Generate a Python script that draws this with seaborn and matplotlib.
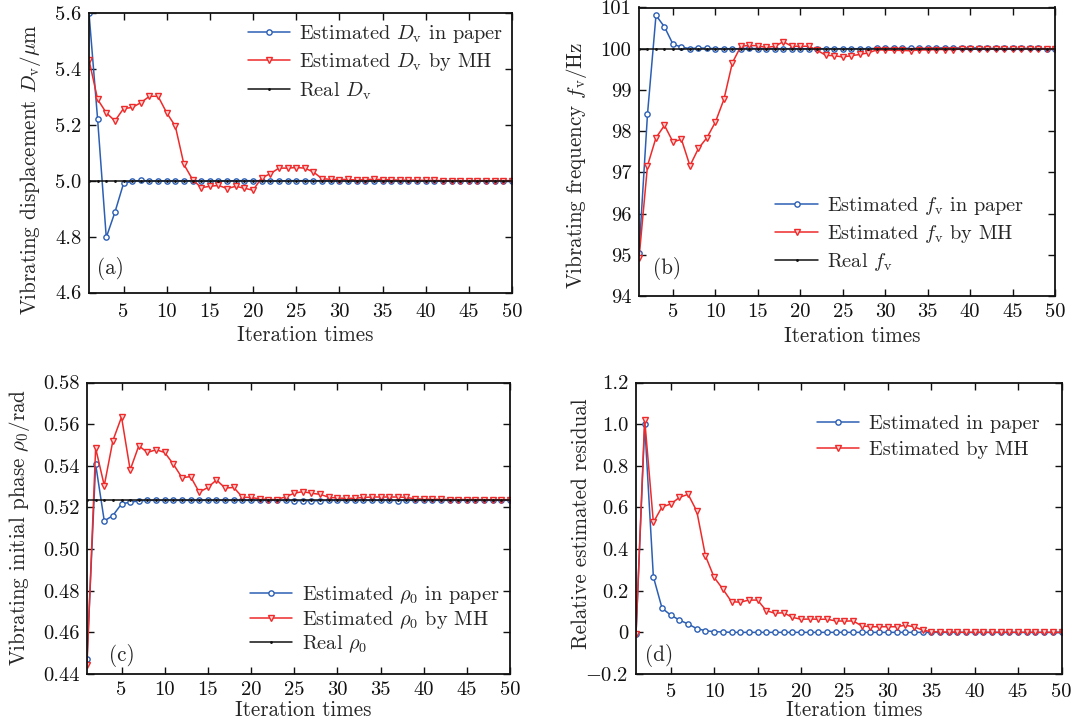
import numpy as np
import pandas as pd
import matplotlib
matplotlib.use("Agg")
import matplotlib.pyplot as plt
import seaborn as sns

# ---------------- data ----------------
iterations = list(range(1, 51))

a_paper = [5.600, 5.219, 4.797, 4.887, 4.990, 4.998, 5.001, 4.999, 4.999, 4.999,
           4.999, 4.999, 5.000, 4.998, 4.999, 4.999, 4.999, 5.000, 5.000, 5.000,
           5.000, 4.999, 4.999, 5.000, 5.000, 5.000, 5.000, 5.000, 4.999, 4.999,
           4.999, 4.999, 4.999, 4.999, 4.999, 4.999, 4.999, 4.999, 4.999, 4.999,
           4.999, 4.999, 4.999, 4.999, 4.999, 4.999, 4.999, 4.999, 5.000, 5.000]
a_mh = [5.432, 5.291, 5.243, 5.214, 5.258, 5.262, 5.279, 5.302, 5.302, 5.243,
        5.195, 5.058, 5.004, 4.975, 4.980, 4.983, 4.972, 4.980, 4.973, 4.966,
        5.010, 5.025, 5.045, 5.045, 5.047, 5.045, 5.031, 5.007, 5.005, 5.004,
        5.005, 5.002, 5.004, 5.005, 5.004, 5.003, 5.002, 5.002, 5.002, 5.001,
        5.001, 5.000, 5.000, 5.000, 5.000, 5.000, 5.000, 5.000, 5.000, 5.000]
a_real = 5.0

b_paper = [95.04, 98.41, 100.81, 100.53, 100.11, 100.04, 100.00, 100.02, 100.01, 100.00,
           100.00, 100.00, 100.00, 100.01, 100.00, 100.00, 100.00, 100.00, 100.00, 100.00,
           100.00, 100.00, 100.00, 100.00, 100.00, 100.00, 100.00, 100.00, 100.01, 100.01,
           100.01, 100.01, 100.01, 100.01, 100.01, 100.02, 100.02, 100.02, 100.02, 100.02,
           100.02, 100.01, 100.01, 100.01, 100.01, 100.01, 100.01, 100.01, 100.00, 100.00]
b_mh = [94.91, 97.16, 97.84, 98.14, 97.74, 97.80, 97.16, 97.58, 97.84, 98.22,
        98.77, 99.66, 100.06, 100.08, 100.07, 100.03, 100.06, 100.17, 100.06, 100.06,
        100.06, 99.96, 99.84, 99.83, 99.80, 99.83, 99.86, 99.90, 99.97, 99.97,
        99.96, 99.96, 99.95, 99.97, 99.97, 99.98, 99.98, 99.98, 99.99, 99.99,
        99.99, 99.99, 99.99, 99.99, 99.99, 100.00, 100.00, 100.00, 100.00, 100.00]
b_real = 100.0

c_paper = [0.4471, 0.5408, 0.5135, 0.5161, 0.5217, 0.5225, 0.5231, 0.5234, 0.5234, 0.5234,
           0.5234, 0.5234, 0.5234, 0.5234, 0.5234, 0.5234, 0.5234, 0.5234, 0.5234, 0.5234,
           0.5234, 0.5234, 0.5234, 0.5234, 0.5232, 0.5232, 0.5231, 0.5232, 0.5234, 0.5234,
           0.5234, 0.5234, 0.5234, 0.5234, 0.5234, 0.5234, 0.5233, 0.5234, 0.5234, 0.5234,
           0.5234, 0.5234, 0.5234, 0.5234, 0.5234, 0.5234, 0.5234, 0.5234, 0.5234, 0.5234]
c_mh = [0.4443, 0.5485, 0.5305, 0.5521, 0.5634, 0.5380, 0.5496, 0.5464, 0.5477, 0.5464,
        0.5408, 0.5343, 0.5348, 0.5273, 0.5296, 0.5332, 0.5293, 0.5296, 0.5249, 0.5248,
        0.5241, 0.5238, 0.5238, 0.5251, 0.5268, 0.5276, 0.5268, 0.5263, 0.5249, 0.5245,
        0.5244, 0.5244, 0.5248, 0.5250, 0.5250, 0.5250, 0.5250, 0.5248, 0.5241, 0.5240,
        0.5239, 0.5239, 0.5238, 0.5238, 0.5238, 0.5238, 0.5237, 0.5237, 0.5237, 0.5237]
c_real = 0.5236

d_paper = [-0.010, 1.000, 0.267, 0.116, 0.083, 0.059, 0.040, 0.018, 0.008, 0.003,
           0.002, 0.000, 0.000, 0.000, 0.000, 0.000, 0.000, 0.000, 0.000, 0.000,
           0.000, 0.000, 0.000, 0.000, 0.000, 0.000, 0.000, 0.000, 0.000, 0.000,
           0.000, 0.000, 0.000, 0.000, 0.000, 0.000, 0.000, 0.000, 0.000, 0.000,
           0.000, 0.000, 0.000, 0.000, 0.000, 0.000, 0.000, 0.000, 0.000, 0.000]
d_mh = [-0.010, 1.022, 0.528, 0.603, 0.616, 0.648, 0.663, 0.582, 0.367, 0.264,
        0.208, 0.147, 0.145, 0.155, 0.155, 0.104, 0.092, 0.094, 0.072, 0.063,
        0.064, 0.063, 0.063, 0.055, 0.054, 0.055, 0.031, 0.027, 0.027, 0.027,
        0.027, 0.034, 0.027, 0.011, 0.003, 0.002, 0.001, 0.001, 0.000, 0.000,
        0.000, 0.000, 0.000, 0.000, 0.000, 0.000, 0.000, 0.000, 0.000, 0.000]

x_ticks = [5, 10, 15, 20, 25, 30, 35, 40, 45, 50]
a_yticks = [4.6, 4.8, 5.0, 5.2, 5.4, 5.6]
a_ylabels = ["4.6", "4.8", "5.0", "5.2", "5.4", "5.6"]
b_yticks = [94, 95, 96, 97, 98, 99, 100, 101]
b_ylabels = ["94", "95", "96", "97", "98", "99", "100", "101"]
c_yticks = [0.44, 0.46, 0.48, 0.50, 0.52, 0.54, 0.56, 0.58]
c_ylabels = ["0.44", "0.46", "0.48", "0.50", "0.52", "0.54", "0.56", "0.58"]
d_yticks = [-0.2, 0.0, 0.2, 0.4, 0.6, 0.8, 1.0, 1.2]
d_ylabels = [r"$-$0.2", "0", "0.2", "0.4", "0.6", "0.8", "1.0", "1.2"]

# ---------------- style ----------------
sns.set_style("ticks")
plt.rcParams["font.family"] = ["cmr10", "DejaVu Serif"]
plt.rcParams["mathtext.fontset"] = "cm"
plt.rcParams["axes.formatter.use_mathtext"] = True

BLUE = "#2c5fb3"
RED = "#ee2a2a"
BLACK = "#111111"
FS_TICK = 14.8
FS_LAB = 15.2
FS_LEG = 14.6

fig = plt.figure(figsize=(10.75, 7.24), dpi=100)
W, H = 1075.0, 724.0


def axes_px(l, t, r, b):
    return fig.add_axes([l / W, 1 - b / H, (r - l) / W, (b - t) / H])


ax_a = axes_px(89, 13, 512, 292.5)
ax_b = axes_px(639, 7.5, 1055, 296)
ax_c = axes_px(87, 382.5, 510, 674)
ax_d = axes_px(636, 382.5, 1061.5, 674)


def draw(ax, paper, mh, real, lab_paper, lab_mh, lab_real):
    df = pd.DataFrame({"it": iterations, "paper": paper, "mh": mh})
    sns.lineplot(data=df, x="it", y="paper", ax=ax, color=BLUE, lw=1.1,
                 marker="o", markersize=3.8, markerfacecolor="white",
                 markeredgecolor=BLUE, markeredgewidth=1.0, label=lab_paper)
    sns.lineplot(data=df, x="it", y="mh", ax=ax, color=RED, lw=1.1,
                 marker="v", markersize=4.8, markerfacecolor="#ffd6d6",
                 markeredgecolor=RED, markeredgewidth=1.0, label=lab_mh)
    if real is not None:
        dr = pd.DataFrame({"it": iterations, "real": [real] * len(iterations)})
        sns.lineplot(data=dr, x="it", y="real", ax=ax, color=BLACK, lw=1.1,
                     marker=".", markersize=2.5, markerfacecolor=BLACK,
                     markeredgecolor=BLACK, label=lab_real)


def style(ax, yticks, ylabels, ylim, ylabel, ylab_xy, xpad, xlab_y, tag, tagpos,
          legpos, legspacing):
    ax.set_xlim(1, 50)
    ax.set_ylim(*ylim)
    ax.set_xticks(x_ticks)
    ax.set_xticklabels([str(v) for v in x_ticks])
    ax.set_yticks(yticks)
    ax.set_yticklabels(ylabels)
    ax.tick_params(direction="in", top=True, right=True, length=5, width=1.0,
                   labelsize=FS_TICK, pad=5.5, colors="#111111")
    ax.tick_params(axis="x", pad=xpad)
    for s in ax.spines.values():
        s.set_linewidth(1.3)
        s.set_color("#111111")
    ax.set_xlabel("Iteration times", fontsize=FS_LAB)
    ax.xaxis.set_label_coords(0.512, xlab_y)
    ax.set_ylabel(ylabel, fontsize=FS_LAB)
    ax.yaxis.set_label_coords(ylab_xy[0], ylab_xy[1])
    ax.text(tagpos[0], tagpos[1], tag, transform=ax.transAxes, fontsize=FS_LAB,
            ha="left", va="center")
    ax.legend(loc="upper left", bbox_to_anchor=legpos, frameon=False,
              fontsize=FS_LEG, handlelength=2.1, handletextpad=0.45,
              borderpad=0, borderaxespad=0, labelspacing=legspacing)


draw(ax_a, a_paper, a_mh, a_real,
     r"Estimated $D_{\mathrm{v}}$ in paper", r"Estimated $D_{\mathrm{v}}$ by MH",
     r"Real $D_{\mathrm{v}}$")
style(ax_a, a_yticks, a_ylabels, (4.6, 5.6),
      r"Vibrating displacement $D_{\mathrm{v}}/\mu\mathrm{m}$", (-0.109, 0.44),
      7.3, -0.119, "(a)", (0.018, 0.085), (0.375, 0.965), 0.33)

draw(ax_b, b_paper, b_mh, b_real,
     r"Estimated $f_{\mathrm{v}}$ in paper", r"Estimated $f_{\mathrm{v}}$ by MH",
     r"Real $f_{\mathrm{v}}$")
style(ax_b, b_yticks, b_ylabels, (94, 101),
      r"Vibrating frequency $f_{\mathrm{v}}/\mathrm{Hz}$", (-0.121, 0.454),
      4.8, -0.107, "(b)", (0.034, 0.096), (0.328, 0.35), 0.3)

draw(ax_c, c_paper, c_mh, c_real,
     r"Estimated $\rho_0$ in paper", r"Estimated $\rho_0$ by MH",
     r"Real $\rho_0$")
style(ax_c, c_yticks, c_ylabels, (0.44, 0.58),
      r"Vibrating initial phase $\rho_0/\mathrm{rad}$", (-0.130, 0.503),
      5.2, -0.0916, "(c)", (0.052, 0.065), (0.385, 0.31), 0.15)

draw(ax_d, d_paper, d_mh, None, "Estimated in paper", "Estimated by MH", None)
style(ax_d, d_yticks, d_ylabels, (-0.2, 1.2),
      "Relative estimated residual", (-0.106, 0.515),
      6.6, -0.0916, "(d)", (0.02, 0.065), (0.425, 0.89), 0.4)

fig.savefig("out.png", dpi=100)
